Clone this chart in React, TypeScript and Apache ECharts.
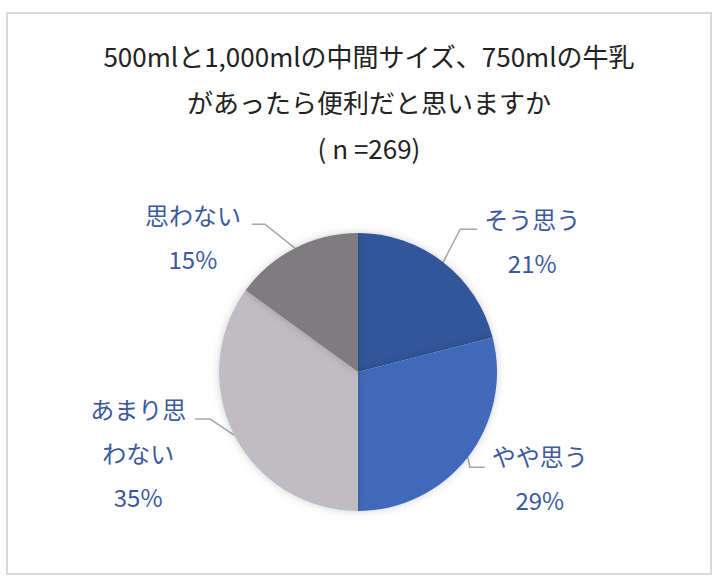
import { useEffect, useRef } from 'react';
import * as echarts from 'echarts';

const titleLines = [
  '500mlと1,000mlの中間サイズ、750mlの牛乳',
  'があったら便利だと思いますか',
  '( n =269)',
];
const categories = ['そう思う', 'やや思う', 'あまり思わない', '思わない'];
const labelNames = ['そう思う', 'やや思う', 'あまり思\nわない', '思わない'];
const shares = [21, 29, 35, 15];
const sliceColors = ['#31569A', '#4169B9', '#C0BDC2', '#7F7C80'];

// label centre and leader bends, relative to where the leader leaves the pie
const labelOffsets = [
  [89, -21.5],
  [72, 20.5],
  [-96, 17.5],
  [-102, -11.5],
];
const leaderBends = [
  [[17, -33], [34, -33]],
  [[2, 10], [17, 10]],
  [[-24, -16], [-39, -16]],
  [[-30, -24], [-43, -24]],
];

const FONT = '"Noto Sans CJK JP", "Noto Sans", sans-serif';

const App = () => {
  const chartRef = useRef<HTMLDivElement>(null);

  useEffect(() => {
    if (!chartRef.current) return;
    const chart = echarts.init(chartRef.current, null, { renderer: 'svg' });
    chart.setOption({
      animation: false,
      backgroundColor: '#fff',
      title: {
        text: titleLines.join('\n'),
        left: 364,
        textAlign: 'center',
        top: 27,
        textStyle: {
          fontFamily: FONT,
          fontSize: 26,
          fontWeight: 'normal',
          color: '#222',
          lineHeight: 46,
        },
      },
      graphic: [
        {
          type: 'rect',
          silent: true,
          z: -1,
          shape: { x: 7, y: 13, width: 704, height: 561 },
          style: { fill: 'none', stroke: '#D9D9D9', lineWidth: 2 },
        },
      ],
      series: [
        {
          type: 'pie',
          center: [358, 372],
          radius: 139,
          startAngle: 90,
          clockwise: true,
          avoidLabelOverlap: false,
          itemStyle: {
            shadowBlur: 8,
            shadowColor: 'rgba(0,0,0,0.18)',
          },
          label: {
            show: true,
            position: 'outside',
            fontFamily: FONT,
            fontSize: 24,
            lineHeight: 44,
            color: '#3B5A9E',
            align: 'center',
            formatter: (p: any) =>
              `${labelNames[p.dataIndex]}\n${Math.round(p.percent)}%`,
          },
          labelLine: {
            show: true,
            length: 15,
            length2: 15,
            lineStyle: { color: '#A6A6A6', width: 1.5 },
          },
          labelLayout: (params: any) => {
            const i = params.dataIndex;
            const pts = params.labelLinePoints;
            if (!pts) return {};
            const [ex, ey] = pts[0];
            return {
              x: ex + labelOffsets[i][0],
              y: ey + labelOffsets[i][1],
              align: 'center',
              verticalAlign: 'middle',
              labelLinePoints: [
                [ex, ey],
                ...leaderBends[i].map(([dx, dy]) => [ex + dx, ey + dy]),
              ],
            };
          },
          data: categories.map((name, i) => ({
            name,
            value: shares[i],
            itemStyle: { color: sliceColors[i] },
          })),
        },
      ],
    });
    return () => {
      chart.dispose();
    };
  }, []);

  return (
    <div
      ref={chartRef}
      style={{ position: 'fixed', left: 0, top: 0, width: 722, height: 586 }}
    ></div>
  );
};

export default App;
